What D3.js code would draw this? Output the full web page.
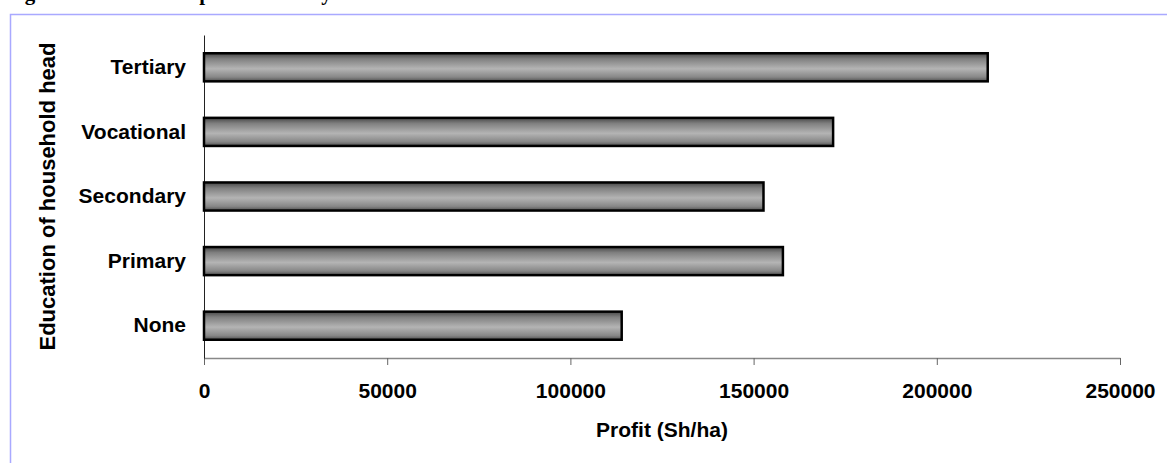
<!DOCTYPE html>
<html>
<head>
<meta charset="utf-8">
<script src="https://cdn.jsdelivr.net/npm/d3@7"></script>
<style>
  body { margin: 0; background: #fff; }
  svg { display: block; }
  svg text { font-family: "Liberation Sans", Arial, sans-serif; font-weight: bold; fill: #000; }
</style>
</head>
<body>
<div id="chart"><svg></svg></div>
<script>
// education level of household head, top to bottom as drawn
const categories = ["Tertiary", "Vocational", "Secondary", "Primary", "None"];
const profit = [213900, 171700, 152700, 158000, 114000];
const xTicks = [0, 50000, 100000, 150000, 200000, 250000];

const W = 1167, H = 463;
const margin = { top: 35, right: 47, bottom: 105, left: 204 };
const width = W - margin.left - margin.right,
  height = H - margin.top - margin.bottom;

const svg = d3.select("#chart svg").attr("width", W).attr("height", H);

// figure caption, mostly cut off above the frame (only descenders show)
svg
  .append("text")
  .attr("x", 6)
  .attr("y", -0.5)
  .style("font-family", '"Liberation Serif", "Times New Roman", serif')
  .style("font-size", "21px")
  .text("Figure 5: Mean farm profit levels by education");

// light blue frame
svg
  .append("rect")
  .attr("x", 10.5)
  .attr("y", 14.5)
  .attr("width", 1300)
  .attr("height", 600)
  .attr("fill", "none")
  .attr("stroke", "#a9a9ff")
  .attr("stroke-width", 1.5);

const defs = svg.append("defs");
const grad = defs
  .append("linearGradient")
  .attr("id", "barGrad")
  .attr("x1", 0).attr("y1", 0).attr("x2", 0).attr("y2", 1);
[
  [0, "#474747"],
  [0.2, "#808080"],
  [0.55, "#b4b4b4"],
  [0.85, "#878787"],
  [1, "#505050"],
].forEach(([o, c]) => grad.append("stop").attr("offset", o).attr("stop-color", c));

const g = svg.append("g").attr("transform", `translate(${margin.left},${margin.top})`);

const x = d3.scaleLinear().domain([0, 250000]).range([0, width]);
const y = d3
  .scaleBand()
  .domain(categories)
  .range([0, height])
  .paddingInner(0.565)
  .paddingOuter(0.2825);

// x axis
const xAxis = g
  .append("g")
  .attr("transform", `translate(0,${height})`)
  .call(
    d3.axisBottom(x).tickValues(xTicks).tickSize(7).tickSizeOuter(0).tickPadding(18)
      .tickFormat(d3.format("d"))
  );
xAxis.select(".domain").attr("stroke", "#888").attr("stroke-width", 1.5);
xAxis.selectAll(".tick line").attr("stroke", "#666");
xAxis.selectAll("text").style("font-size", "21px");

// y axis
const yAxis = g
  .append("g")
  .call(d3.axisLeft(y).tickSize(0).tickPadding(18));
yAxis.select(".domain").attr("stroke", "#222");
yAxis.selectAll("text").style("font-size", "21px");

// bars
g.selectAll(".bar")
  .data(categories)
  .enter()
  .append("rect")
  .attr("class", "bar")
  .attr("x", x(0))
  .attr("y", (d) => y(d))
  .attr("width", (d, i) => x(profit[i]) - x(0))
  .attr("height", y.bandwidth())
  .attr("fill", "url(#barGrad)")
  .attr("stroke", "#000")
  .attr("stroke-width", 2.5);

// axis titles
g.append("text")
  .attr("x", width / 2)
  .attr("y", height + 79)
  .style("text-anchor", "middle")
  .style("font-size", "21px")
  .text("Profit (Sh/ha)");

svg
  .append("text")
  .attr("transform", "rotate(-90)")
  .attr("x", -(margin.top + height / 2))
  .attr("y", 55)
  .style("text-anchor", "middle")
  .style("font-size", "22px")
  .text("Education of household head");
</script>
</body>
</html>
